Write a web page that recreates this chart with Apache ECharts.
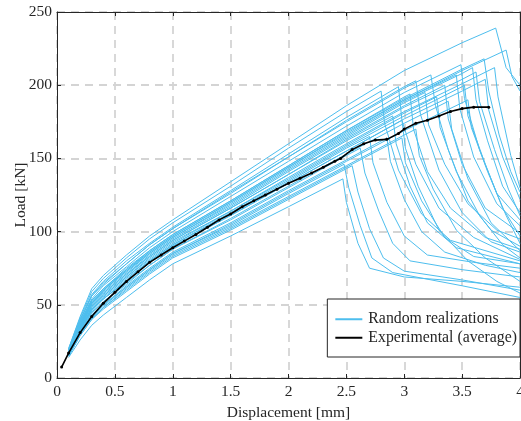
<!DOCTYPE html>
<html>
<head>
<meta charset="utf-8">
<script src="https://cdn.jsdelivr.net/npm/echarts@6/dist/echarts.min.js"></script>
<style>
  html, body { margin: 0; padding: 0; background: #ffffff; }
  #chart { width: 521px; height: 421px; }
</style>
</head>
<body>
<div id="chart"></div>
<script>
// Displacement grid shared by the rising branch of every realization [mm]
const risingDisp = [0.1, 0.2, 0.3, 0.4, 0.6, 0.8, 1.0, 1.5, 2.0, 2.5, 3.0, 3.5];

// Rising-branch loads of each random realization [kN], one row per realization
const risingLoads = [
  [14, 26, 36, 43, 55, 67, 78, 97, 117],
  [15, 30, 42, 49, 62, 74, 85, 104, 126],
  [15, 29, 40, 47, 59, 71, 82, 101, 122, 143],
  [16, 32, 44, 52, 64, 77, 88, 108, 130, 152],
  [16, 33, 47, 54, 67, 80, 91, 112, 134, 157],
  [20, 41, 59, 68, 82, 95, 106, 131, 157, 182],
  [16, 31, 43, 50, 63, 75, 86, 106, 128, 149],
  [17, 35, 49, 57, 70, 83, 94, 116, 139, 162],
  [16, 33, 46, 54, 66, 79, 90, 111, 133, 155],
  [18, 37, 53, 61, 75, 87, 98, 121, 145, 169, 192],
  [19, 39, 56, 65, 78, 91, 102, 127, 151, 176, 199],
  [15, 30, 41, 48, 61, 73, 84, 103, 124, 145, 166],
  [17, 36, 51, 59, 72, 85, 96, 118, 142, 165, 188],
  [19, 39, 56, 64, 78, 91, 102, 126, 151, 175, 198],
  [17, 34, 48, 56, 69, 81, 92, 114, 136, 159, 181],
  [17, 35, 50, 58, 71, 84, 95, 117, 141, 164, 186],
  [16, 32, 45, 52, 65, 77, 88, 109, 131, 153, 174],
  [18, 36, 52, 60, 73, 86, 97, 120, 144, 167, 190],
  [18, 38, 54, 63, 76, 89, 100, 124, 148, 172, 195],
  [17, 33, 47, 55, 68, 80, 91, 113, 135, 158, 179, 199],
  [15, 30, 42, 50, 62, 74, 85, 105, 127, 148, 169, 188],
  [18, 36, 51, 60, 73, 85, 96, 119, 143, 166, 189, 208],
  [17, 35, 50, 58, 71, 83, 94, 116, 139, 163, 185, 204],
  [18, 37, 53, 61, 74, 87, 98, 121, 145, 169, 191, 211],
  [16, 33, 46, 54, 66, 79, 90, 111, 133, 155, 177, 196],
  [17, 34, 48, 56, 69, 82, 93, 114, 137, 160, 182, 201],
  [18, 36, 52, 60, 74, 86, 97, 120, 144, 168, 190, 210],
  [20, 42, 61, 70, 84, 97, 108, 134, 160, 186, 210, 229],
  [15, 29, 40, 48, 60, 72, 83, 102, 123, 144],
  [19, 40, 57, 66, 80, 92, 103, 128, 153, 178]
];

// Peak point [disp, load] of each realization
const peakPoints = [
  [2.47, 136], [2.48, 146], [2.55, 145], [2.62, 157], [2.70, 165],
  [2.80, 196], [2.85, 164], [2.90, 179], [2.98, 176], [3.05, 194],
  [3.10, 203], [3.10, 170], [3.18, 195], [3.23, 207], [3.28, 192],
  [3.35, 200], [3.38, 189], [3.45, 207], [3.49, 214], [3.52, 200],
  [3.55, 190], [3.59, 212], [3.62, 209], [3.69, 218], [3.70, 204],
  [3.78, 212], [3.88, 224], [3.79, 239], [2.98, 164], [2.95, 199]
];

// Softening branch after the peak [disp, load]
const softeningPaths = [
  [[2.50, 120], [2.60, 92], [2.70, 75], [3.00, 69], [3.50, 66], [4.00, 62]],
  [[2.52, 130], [2.62, 104], [2.72, 82], [2.90, 72], [3.50, 63], [4.00, 55]],
  [[2.60, 127], [2.70, 102], [2.82, 82], [3.00, 73], [3.50, 67], [4.00, 60]],
  [[2.66, 140], [2.78, 114], [2.90, 92], [3.05, 80], [3.50, 74], [4.00, 69]],
  [[2.73, 147], [2.85, 120], [3.00, 97], [3.20, 84], [3.60, 79], [4.00, 75]],
  [[2.83, 174], [2.95, 142], [3.15, 112], [3.40, 94], [4.00, 80]],
  [[2.88, 148], [3.00, 122], [3.15, 100], [3.35, 86], [3.70, 77], [4.00, 72]],
  [[2.93, 160], [3.05, 131], [3.20, 106], [3.45, 89], [4.00, 78]],
  [[3.01, 157], [3.12, 131], [3.30, 101], [3.55, 80], [3.80, 66], [4.00, 58]],
  [[3.08, 170], [3.20, 141], [3.40, 116], [3.70, 96], [4.00, 88]],
  [[3.14, 180], [3.30, 142], [3.50, 113], [3.75, 93], [4.00, 86]],
  [[3.13, 152], [3.25, 129], [3.45, 101], [3.70, 82], [4.00, 66]],
  [[3.21, 173], [3.35, 146], [3.55, 119], [3.80, 101], [4.00, 95]],
  [[3.27, 186], [3.38, 156], [3.55, 121], [3.75, 101], [4.00, 90]],
  [[3.31, 171], [3.45, 141], [3.65, 111], [3.85, 91], [4.00, 82]],
  [[3.38, 177], [3.50, 146], [3.70, 116], [4.00, 99]],
  [[3.41, 170], [3.55, 136], [3.75, 106], [4.00, 87]],
  [[3.48, 184], [3.60, 151], [3.80, 119], [4.00, 104]],
  [[3.52, 191], [3.65, 156], [3.80, 126], [4.00, 108]],
  [[3.55, 179], [3.70, 146], [3.85, 116], [4.00, 97]],
  [[3.58, 171], [3.72, 141], [3.88, 111], [4.00, 92]],
  [[3.62, 190], [3.72, 162], [3.85, 131], [4.00, 113]],
  [[3.65, 189], [3.78, 156], [3.90, 129], [4.00, 111]],
  [[3.73, 196], [3.82, 166], [3.92, 141], [4.00, 127]],
  [[3.73, 183], [3.85, 151], [4.00, 122]],
  [[3.81, 192], [3.92, 152], [4.00, 130]],
  [[3.93, 206], [4.00, 196]],
  [[3.88, 212], [3.95, 205], [4.00, 200]],
  [[3.01, 147], [3.15, 121], [3.35, 96], [3.60, 83], [4.00, 78]],
  [[2.98, 176], [3.10, 146], [3.30, 116], [3.60, 96], [4.00, 81]]
];

// Averaged experimental curve
const expDisp = [0.04, 0.1, 0.2, 0.3, 0.4, 0.5, 0.6, 0.7, 0.8, 0.9, 1.0, 1.1, 1.2, 1.3, 1.4,
  1.5, 1.6, 1.7, 1.8, 1.9, 2.0, 2.1, 2.2, 2.3, 2.4, 2.45, 2.55, 2.65, 2.75, 2.85, 2.95,
  3.0, 3.1, 3.2, 3.3, 3.4, 3.5, 3.6, 3.73];
const expLoad = [7.5, 17, 31, 42, 51, 58.5, 66, 72.5, 79, 84, 89, 93.5, 98, 103, 108,
  112, 117, 121, 125, 129, 133, 136.5, 140, 144, 148, 150, 156, 160, 162.5, 163, 167,
  170, 174, 176, 179, 182, 184, 185, 185];

const xTicks = { min: 0, max: 4, interval: 0.5 };
const yTicks = { min: 0, max: 250, interval: 50 };

const FONT = 'Liberation Serif';
const INK = '#262626';
const BLUE = '#4DBEEE';

const series = [];
risingLoads.forEach((loads, i) => {
  const pts = loads.map((v, k) => [risingDisp[k], v]);
  pts.push(peakPoints[i]);
  softeningPaths[i].forEach(p => pts.push(p));
  series.push({
    name: 'Random realizations',
    type: 'line',
    data: pts,
    symbol: 'none',
    silent: true,
    lineStyle: { color: BLUE, width: 1 },
    itemStyle: { color: BLUE },
    z: 2
  });
});
series.push({
  name: 'Experimental (average)',
  type: 'line',
  data: expDisp.map((d, k) => [d, expLoad[k]]),
  symbol: 'circle',
  symbolSize: 3,
  showSymbol: true,
  lineStyle: { color: '#000000', width: 1.6 },
  itemStyle: { color: '#000000' },
  z: 5
});

const axisLine = { show: true, onZero: false, lineStyle: { color: INK, width: 1 } };
const tickIn = { show: true, inside: true, length: 4, lineStyle: { color: INK, width: 1 } };
const gridLine = { show: true, lineStyle: { color: '#d4d4d4', width: 1.8, type: [8, 6] } };
const labelText = { fontFamily: FONT, fontSize: 15.5, color: INK };

const chart = echarts.init(document.getElementById('chart'), null, { renderer: 'canvas' });
chart.setOption({
  animation: false,
  backgroundColor: '#ffffff',
  grid: { left: 57, right: 1, top: 12, bottom: 43, containLabel: false, outerBoundsMode: 'none' },
  xAxis: [
    {
      type: 'value', position: 'bottom', ...xTicks,
      name: 'Displacement [mm]', nameLocation: 'middle', nameGap: 27, nameMoveOverlap: false,
      nameTextStyle: labelText,
      axisLine, axisTick: tickIn, splitLine: gridLine,
      axisLabel: { ...labelText, margin: 6 }
    },
    {
      type: 'value', position: 'top', ...xTicks,
      axisLine, axisTick: tickIn, splitLine: { show: false },
      axisLabel: { show: false }
    }
  ],
  yAxis: [
    {
      type: 'value', position: 'left', ...yTicks,
      name: 'Load [kN]', nameLocation: 'middle', nameGap: 28, nameMoveOverlap: false,
      nameTextStyle: labelText,
      axisLine, axisTick: tickIn, splitLine: gridLine,
      axisLabel: { ...labelText, margin: 5 }
    },
    {
      type: 'value', position: 'right', ...yTicks,
      axisLine, axisTick: tickIn, splitLine: { show: false },
      axisLabel: { show: false }
    }
  ],
  legend: {
    data: [
      { name: 'Random realizations', icon: 'rect' },
      { name: 'Experimental (average)', icon: 'rect' }
    ],
    orient: 'vertical',
    right: 1,
    top: 299,
    backgroundColor: '#ffffff',
    borderColor: INK,
    borderWidth: 1,
    borderRadius: 0,
    padding: [12, 3, 11, 8],
    itemGap: 2,
    itemWidth: 27,
    itemHeight: 2,
    textStyle: { ...labelText, fontSize: 15.8, lineHeight: 16.5, padding: [0, 0, 0, 1] },
    selectedMode: false
  },
  series
});
</script>
</body>
</html>
